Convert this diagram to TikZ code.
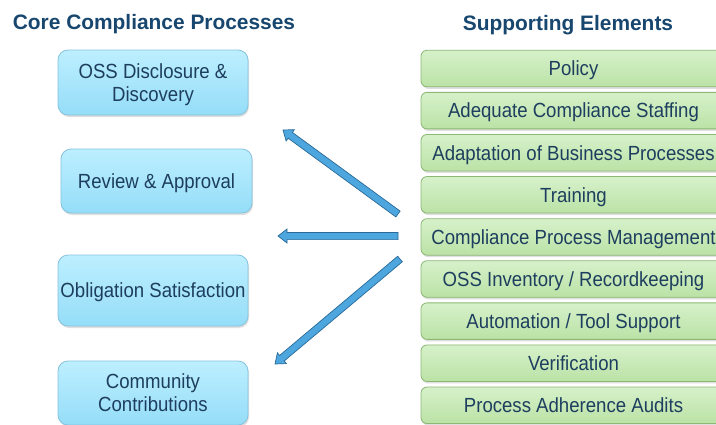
\documentclass[tikz,border=0pt]{standalone}
\usepackage{fontspec}
\usepackage{graphicx}
\setmainfont{Liberation Sans}
\usetikzlibrary{calc,shadows}
\definecolor{txtblue}{HTML}{1D3E5E}
\definecolor{hdrblue}{HTML}{17466F}
\definecolor{cyantop}{HTML}{BDEFFF}
\definecolor{cyanbot}{HTML}{95DDF8}
\definecolor{cyanedge}{HTML}{86C3DE}
\definecolor{greentop}{HTML}{D6F1CA}
\definecolor{greenbot}{HTML}{BBE2A6}
\definecolor{greenedge}{HTML}{8CB874}
\definecolor{arrowfill}{HTML}{4DA6DD}
\definecolor{arrowedge}{HTML}{2A6A98}
\newcommand\stx[1]{\raisebox{-2.8pt}[\height][\depth]{\scalebox{1}[1.1]{\begin{tabular}{@{}c@{}}#1\end{tabular}}}}
\tikzset{
  boxtext/.style={font=\fontsize{18.6}{20.8}\selectfont, text=txtblue, align=center, inner sep=0pt},
  corebox/.style={boxtext, draw=cyanedge, line width=0.8pt, rounded corners=10pt,
    top color=cyantop, bottom color=cyanbot,
    drop shadow={shadow xshift=1pt, shadow yshift=-2pt, opacity=0.25, fill=gray}},
  supbox/.style={boxtext, draw=greenedge, line width=0.8pt, rounded corners=6pt,
    top color=greentop, bottom color=greenbot, minimum width=305pt, minimum height=36.5pt,
    drop shadow={shadow xshift=1pt, shadow yshift=-2pt, opacity=0.25, fill=gray}},
  header/.style={font=\fontsize{20.9}{25}\selectfont\bfseries, text=hdrblue, anchor=base, inner sep=0pt},
  blockarr/.style={fill=arrowfill, draw=arrowedge, line width=0.7pt, line join=miter},
}
\newcommand\blockarrow[2]{%
  \coordinate (#2b) at ($(#2)!9pt!(#1)$);
  \draw[blockarr] ($(#1)!3.6pt!90:(#2)$) -- ($(#2b)!3.6pt!90:(#2)$) -- ($(#2b)!7pt!90:(#2)$)
    -- (#2) -- ($(#2b)!7pt!-90:(#2)$) -- ($(#2b)!3.6pt!-90:(#2)$) -- ($(#1)!3.6pt!-90:(#2)$) -- cycle;
}
\begin{document}
\begin{tikzpicture}[x=1pt,y=-1pt]
\useasboundingbox (0,0) rectangle (716,424);
\fill[white] (0,0) rectangle (716,424);

% headers
\node[header] (hl) at (154,29) {Core Compliance Processes};
\node[header] (hr) at (568,30) {Supporting Elements};

% core processes
\node[corebox, minimum width=190pt, minimum height=65pt] (l1) at (153,82.5) {\stx{OSS Disclosure \&\\Discovery}};
\node[corebox, minimum width=191pt, minimum height=64pt] (l2) at (156.5,181) {\stx{Review \& Approval}};
\node[corebox, minimum width=190pt, minimum height=71pt] (l3) at (153,290.5) {\stx{Obligation Satisfaction}};
\node[corebox, minimum width=190pt, minimum height=64pt] (l4) at (153,393) {\stx{Community\\Contributions}};

% supporting elements
\node[supbox] (r1) at (573.5,68.5) {\stx{Policy}};
\node[supbox] (r2) at (573.5,110.6) {\stx{Adequate Compliance Staffing}};
\node[supbox] (r3) at (573.5,152.7) {\stx{Adaptation of Business Processes}};
\node[supbox] (r4) at (573.5,194.8) {\stx{Training}};
\node[supbox] (r5) at (573.5,236.9) {\stx{Compliance Process Management}};
\node[supbox] (r6) at (573.5,279.0) {\stx{OSS Inventory / Recordkeeping}};
\node[supbox] (r7) at (573.5,321.1) {\stx{Automation / Tool Support}};
\node[supbox] (r8) at (573.5,363.2) {\stx{Verification}};
\node[supbox] (r9) at (573.5,405.3) {\stx{Process Adherence Audits}};

% arrows
\coordinate (t1) at (398,214);
\coordinate (h1) at (283,130);
\coordinate (t2) at (398,236);
\coordinate (h2) at (278,236);
\coordinate (t3) at (400,259);
\coordinate (h3) at (275,364);
\blockarrow{t1}{h1}
\blockarrow{t2}{h2}
\blockarrow{t3}{h3}
\end{tikzpicture}
\end{document}
